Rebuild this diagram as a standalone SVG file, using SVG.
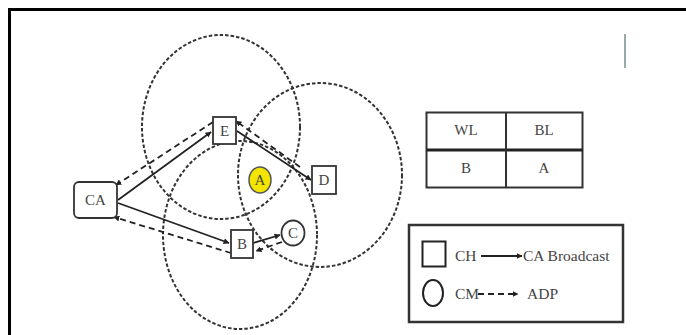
<svg xmlns="http://www.w3.org/2000/svg" width="686" height="335" viewBox="0 0 686 335">
<defs>
<style>
.rng{fill:none;stroke:#333;stroke-width:2;stroke-dasharray:3.5 2}
.nd{fill:#fff;stroke:#333;stroke-width:1.8}
.t{font-family:"Liberation Serif","Times New Roman",serif;font-size:15px;fill:#444;text-anchor:middle;dominant-baseline:central}
.tl{font-family:"Liberation Serif","Times New Roman",serif;font-size:15.5px;fill:#444;dominant-baseline:central}
.sol{stroke:#222;stroke-width:1.8;fill:none}
.dsh{stroke:#222;stroke-width:1.8;fill:none;stroke-dasharray:6 4}
</style>
<marker id="ah" viewBox="0 0 10 10" refX="9" refY="5" markerWidth="6" markerHeight="6" orient="auto" markerUnits="userSpaceOnUse"><path d="M0,0 L10,5 L0,10 z" fill="#222"/></marker>
</defs>
<rect width="686" height="335" fill="#fff"/>
<path d="M9.5,335 V9.5 H686" fill="none" stroke="#000" stroke-width="3"/>
<line x1="625" y1="34" x2="625" y2="68" stroke="#9aa" stroke-width="2"/>
<g id="ranges">
<ellipse class="rng" cx="221" cy="127" rx="79" ry="92"/>
<ellipse class="rng" cx="320" cy="175" rx="82" ry="92"/>
<ellipse class="rng" cx="240" cy="235" rx="77" ry="94"/>
</g>
<g id="connectors">
<line class="sol" x1="118" y1="200" x2="211" y2="132" marker-end="url(#ah)"/>
<line class="dsh" x1="213" y1="122" x2="116" y2="185" marker-end="url(#ah)"/>
<line class="sol" x1="118" y1="203" x2="229" y2="243" marker-end="url(#ah)"/>
<line class="dsh" x1="231" y1="253" x2="114" y2="217" marker-end="url(#ah)"/>
<line class="sol" x1="237" y1="131" x2="311" y2="180" marker-end="url(#ah)"/>
<line class="dsh" x1="300" y1="167" x2="236" y2="121" marker-end="url(#ah)"/>
<line class="sol" x1="253" y1="243" x2="280" y2="235" marker-end="url(#ah)"/>
<line class="dsh" x1="282" y1="242" x2="256" y2="251" marker-end="url(#ah)"/>
</g>
<g id="CA"><rect class="nd" x="74" y="182" width="43" height="36" rx="5"/><text class="t" x="95.5" y="200">CA</text></g>
<g id="E"><rect class="nd" x="213" y="117" width="23" height="27"/><text class="t" x="224.5" y="131">E</text></g>
<g id="D"><rect class="nd" x="312" y="166" width="24" height="28"/><text class="t" x="324" y="180">D</text></g>
<g id="B"><rect class="nd" x="231" y="230" width="22" height="28"/><text class="t" x="242" y="244">B</text></g>
<g id="C"><ellipse class="nd" cx="293" cy="233" rx="11.5" ry="12.5"/><text class="t" x="293" y="233">C</text></g>
<g id="A"><ellipse cx="260" cy="180" rx="11" ry="13" fill="#f2e600" stroke="#555" stroke-width="1.5"/><text class="t" x="260" y="180">A</text></g>
<g id="table">
<rect x="426.5" y="112.5" width="156" height="75" fill="#fff" stroke="#333" stroke-width="2"/>
<line x1="426.5" y1="150" x2="582.5" y2="150" stroke="#222" stroke-width="3"/>
<line x1="506" y1="112.5" x2="506" y2="187.5" stroke="#333" stroke-width="2"/>
<text class="t" x="466" y="130">WL</text>
<text class="t" x="544" y="130">BL</text>
<text class="t" x="466" y="168">B</text>
<text class="t" x="544" y="168">A</text>
</g>
<g id="legend">
<rect x="409" y="225" width="214" height="97" fill="#fff" stroke="#333" stroke-width="2.5"/>
<rect x="422.5" y="241.5" width="23" height="25" fill="#fff" stroke="#222" stroke-width="2"/>
<text class="tl" x="455" y="255">CH</text>
<line class="sol" x1="481" y1="256" x2="522" y2="256" marker-end="url(#ah)"/>
<text class="tl" x="523" y="255">CA Broadcast</text>
<ellipse cx="433" cy="293" rx="10" ry="13" fill="#fff" stroke="#222" stroke-width="2"/>
<text class="tl" x="455" y="293">CM</text>
<line class="dsh" x1="478" y1="294" x2="518" y2="294" stroke-dasharray="7 5" marker-end="url(#ah)"/>
<text class="tl" x="527" y="293">ADP</text>
</g>
</svg>
